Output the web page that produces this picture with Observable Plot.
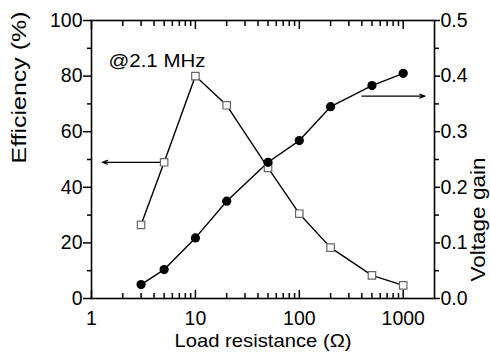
<!DOCTYPE html>
<html><head><meta charset="utf-8">
<script src="https://cdn.jsdelivr.net/npm/d3@7"></script>
<script src="https://cdn.jsdelivr.net/npm/@observablehq/plot@0.6"></script>
<style>body{margin:0;background:#fff} svg{font-family:"Liberation Sans",Arial,sans-serif}</style>
</head><body><div id="chart"></div>
<script>
// ---- data ----
const resistance = [3, 5, 10, 20, 50, 100, 200, 500, 1000];
const efficiency = [26.5, 49, 80, 69.5, 47, 30.5, 18.3, 8.3, 4.7];
const voltageGain = [0.025, 0.052, 0.109, 0.175, 0.245, 0.284, 0.345, 0.383, 0.405];
const xTicks = [1, 10, 100, 1000];
const xMinorTicks = [2,3,4,5,6,7,8,9,20,30,40,50,60,70,80,90,200,300,400,500,600,700,800,900];
const effTicks = [0, 20, 40, 60, 80, 100];
const effMinorTicks = [10, 30, 50, 70, 90];
const gainTicks = [0, 0.1, 0.2, 0.3, 0.4, 0.5];
const gainMinorTicks = [0.05, 0.15, 0.25, 0.35, 0.45];
const xLabel = "Load resistance (Ω)";
const effLabel = "Efficiency (%)";
const gainLabel = "Voltage gain";
const annotation = "@2.1 MHz";
const arrowLeft = {x1: 4.6, x2: 1.27, eff: 49};
const arrowRight = {x1: 400, x2: 1620, gain: 0.364};

const effDomain = [0, 100];
const gainDomain = [0, 0.5];
const k = (effDomain[1] - effDomain[0]) / (gainDomain[1] - gainDomain[0]);
const toEff = g => g * k;

const effData = resistance.map((r, i) => ({r, v: efficiency[i]}));
const gainData = resistance.map((r, i) => ({r, v: toEff(voltageGain[i])}));
const arrows = [
  {x1: arrowLeft.x1, x2: arrowLeft.x2, y: arrowLeft.eff},
  {x1: arrowRight.x1, x2: arrowRight.x2, y: toEff(arrowRight.gain)}
];

const fs = 19.5;
const chart = Plot.plot({
  width: 490, height: 357,
  marginLeft: 91, marginRight: 56, marginTop: 20, marginBottom: 59,
  style: {fontSize: fs + "px", fontFamily: '"Liberation Sans", Arial, sans-serif', background: "#fff", color: "#000"},
  x: {type: "log", domain: [1, 2000]},
  y: {domain: effDomain},
  marks: [
    // x axis bottom (inward ticks)
    Plot.axisX(xTicks, {anchor: "bottom", tickSize: -8, tickFormat: () => "", label: null, strokeWidth: 1.5}),
    Plot.axisX(xMinorTicks, {anchor: "bottom", tickSize: -5, tickFormat: () => "", label: null, strokeWidth: 1.5}),
    Plot.axisX(xTicks, {anchor: "bottom", tickSize: 0, tickPadding: 13, tickFormat: d => String(d), label: null, fontSize: fs}),
    // x axis top (inward ticks)
    Plot.axisX(xTicks, {anchor: "top", tickSize: -8, tickFormat: () => "", label: null, strokeWidth: 1.5}),
    Plot.axisX(xMinorTicks, {anchor: "top", tickSize: -5, tickFormat: () => "", label: null, strokeWidth: 1.5}),
    // left y axis
    Plot.axisY(effTicks, {anchor: "left", tickSize: 8, tickPadding: 1, label: null, fontSize: fs, strokeWidth: 1.5}),
    Plot.axisY(effMinorTicks, {anchor: "left", tickSize: 4, tickFormat: () => "", label: null, strokeWidth: 1.5}),
    // right y axis (voltage gain)
    Plot.axisY(gainTicks.map(toEff), {anchor: "right", tickSize: 5, tickPadding: 1, tickFormat: d => (d / k).toFixed(1), label: null, fontSize: fs, strokeWidth: 1.5}),
    Plot.axisY(gainMinorTicks.map(toEff), {anchor: "right", tickSize: 4, tickFormat: () => "", label: null, strokeWidth: 1.5}),
    Plot.frame({stroke: "#000", strokeWidth: 1.6}),
    // axis titles
    Plot.text([xLabel], {frameAnchor: "bottom", dy: 48, text: d => d, fontSize: 19}),
    Plot.text([effLabel], {frameAnchor: "left", dx: -72, dy: 4, rotate: -90, text: d => d, fontSize: 20}),
    Plot.text([gainLabel], {frameAnchor: "right", dx: 44, dy: -2, rotate: -90, text: d => d, fontSize: 20}),
    Plot.text([annotation], {frameAnchor: "top-left", dx: 17, dy: 32.5, text: d => d, fontSize: 19, textAnchor: "start"}),
    // arrows
    Plot.arrow(arrows, {x1: "x1", x2: "x2", y1: "y", y2: "y", stroke: "#000", strokeWidth: 1.2, headLength: 7, headAngle: 40}),
    // series
    Plot.line(effData, {x: "r", y: "v", stroke: "#000", strokeWidth: 1.4}),
    Plot.line(gainData, {x: "r", y: "v", stroke: "#000", strokeWidth: 1.4}),
    Plot.dot(effData, {x: "r", y: "v", symbol: "square", r: 4.2, fill: "#fff", stroke: "#666", strokeWidth: 1.2}),
    Plot.dot(gainData, {x: "r", y: "v", r: 4.6, fill: "#000", stroke: "none"})
  ]
});
// stretch the titles to the lengths they have in the reference
const lengths = {[xLabel]: 177, [effLabel]: 152, [gainLabel]: 124, [annotation]: 97};
chart.querySelectorAll("text").forEach(t => {
  const L = lengths[t.textContent];
  if (L) { t.setAttribute("textLength", L); t.setAttribute("lengthAdjust", "spacingAndGlyphs"); }
});
document.getElementById("chart").appendChild(chart);
</script>
</body></html>
